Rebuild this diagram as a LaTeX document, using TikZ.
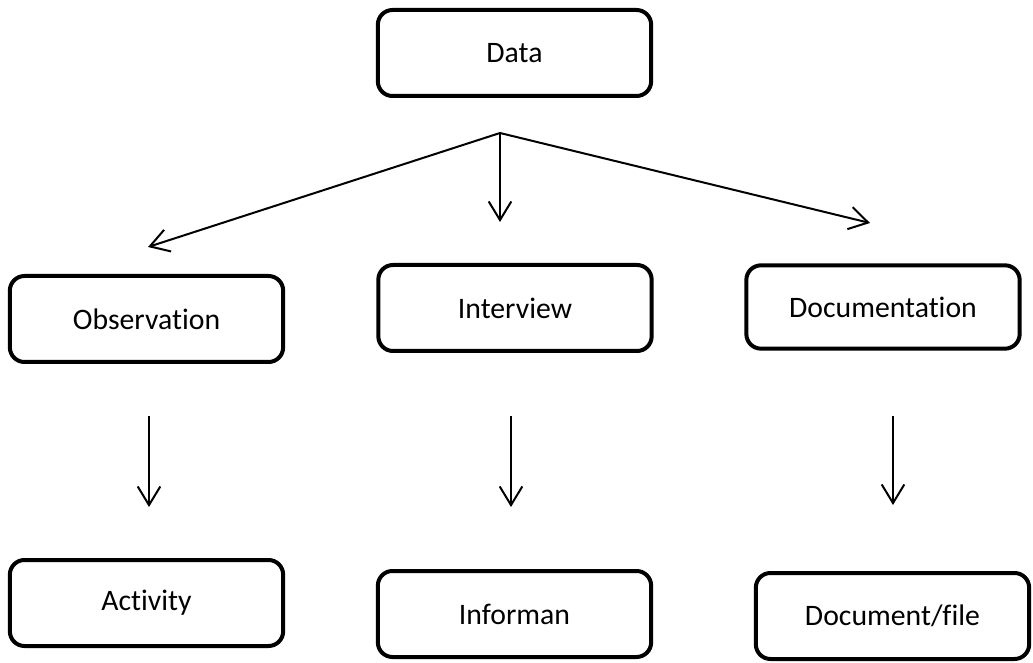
\documentclass[tikz,border=0pt]{standalone}
\usepackage{fontspec}
\setmainfont{Carlito}[RawFeature={-liga;-clig}]
\usetikzlibrary{arrows.meta}
\begin{document}
\begin{tikzpicture}[x=0.75pt,y=-0.75pt,
  box/.style={draw=black, line width=3pt, rounded corners=11pt, fill=white,
    minimum width=205pt, minimum height=64.5pt, inner sep=0pt,
    font=\fontsize{22.3}{27}\selectfont},
  conn/.style={line width=1.5pt, -{Straight Barb[length=14pt,width=17pt,line width=1.5pt]}}]
\useasboundingbox[fill=white] (0,0) rectangle (1033,663);
\node[box] (data) at (514.5,53) {Data};
\node[box] (obs) at (146.5,319) {Observation};
\node[box] (int) at (515,308) {Interview};
\node[box, minimum height=62.5pt] (doc) at (883,307) {Documentation};
\node[box] (act) at (146.5,603) {Activity};
\node[box] (inf) at (514.5,614) {Informan};
\node[box] (docf) at (892.5,616) {Document/file};
\coordinate (fork) at (500,133);
\coordinate (tobs) at (148,247);
\coordinate (tint) at (500,222);
\coordinate (tdoc) at (870,223);
\coordinate (a1s) at (149,416);
\coordinate (a1e) at (149,507);
\coordinate (a2s) at (511,416);
\coordinate (a2e) at (511,507);
\coordinate (a3s) at (893,416);
\coordinate (a3e) at (893,505);
\draw[conn] (fork) -- (tobs);
\draw[conn] (fork) -- (tint);
\draw[conn] (fork) -- (tdoc);
\draw[conn] (a1s) -- (a1e);
\draw[conn] (a2s) -- (a2e);
\draw[conn] (a3s) -- (a3e);
\end{tikzpicture}
\end{document}
